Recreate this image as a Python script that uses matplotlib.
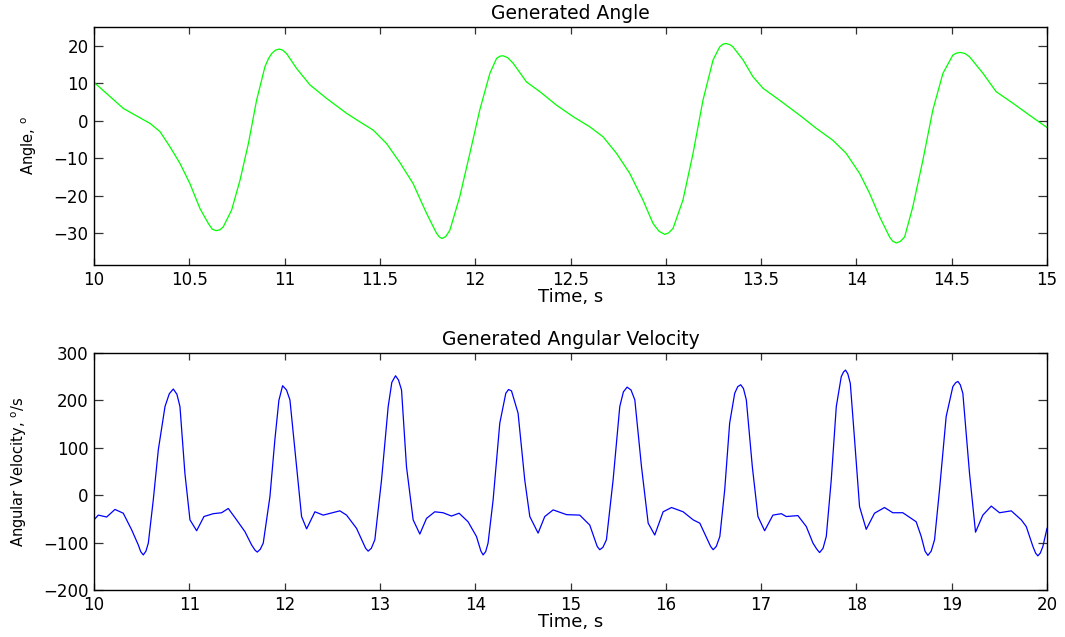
import numpy as np
import matplotlib
matplotlib.use("Agg")
import matplotlib.pyplot as plt

# ---- data ----
angle_t = [10.0, 10.154, 10.206, 10.294, 10.346, 10.399, 10.451, 10.503, 10.556, 10.6,
           10.62, 10.64, 10.66, 10.678, 10.722, 10.766, 10.81, 10.853, 10.897, 10.915,
           10.932, 10.952, 10.972, 10.99, 11.01,
           11.063, 11.133, 11.22, 11.325, 11.395, 11.465, 11.535, 11.605, 11.674, 11.745,
           11.797, 11.812, 11.826, 11.845, 11.867, 11.919, 11.972, 12.024, 12.077, 12.112,
           12.13, 12.146, 12.17, 12.199,
           12.269, 12.339, 12.426, 12.514, 12.601, 12.671, 12.741, 12.811, 12.88, 12.933,
           12.965, 12.994, 13.015, 13.038, 13.09, 13.143, 13.195, 13.248, 13.283, 13.30,
           13.315, 13.335, 13.352, 13.405,
           13.457, 13.51, 13.597, 13.702, 13.789, 13.876, 13.946, 14.017, 14.069, 14.122,
           14.174, 14.19, 14.209, 14.23, 14.253, 14.296, 14.349, 14.401, 14.454, 14.506,
           14.525, 14.545, 14.57, 14.594,
           14.664, 14.733, 14.821, 14.908, 15.0]
angle_deg = [10.3, 3.3, 1.8, -0.7, -2.9, -7.0, -11.4, -16.8, -23.5, -27.5,
             -29.0, -29.4, -29.2, -28.4, -23.9, -15.9, -6.1, 5.5, 14.5, 16.6,
             18.0, 18.9, 19.2, 18.9, 18.0,
             14.0, 9.6, 6.0, 2.0, -0.3, -2.5, -6.1, -11.2, -16.8, -24.8,
             -30.1, -31.1, -31.5, -31.0, -29.3, -20.3, -8.7, 2.9, 12.7, 16.7,
             17.3, 17.4, 16.9, 15.4,
             10.4, 7.8, 4.2, 1.1, -1.6, -4.3, -8.7, -14.1, -21.2, -27.5,
             -29.6, -30.4, -30.0, -28.8, -21.2, -8.7, 5.5, 16.3, 19.8, 20.5,
             20.7, 20.4, 19.8, 16.3,
             11.8, 8.7, 5.5, 1.5, -2.0, -5.2, -8.7, -14.1, -19.4, -25.7,
             -31.1, -32.2, -32.7, -32.3, -31.1, -23.0, -10.5, 2.9, 12.7, 17.6,
             18.1, 18.3, 18.0, 17.1,
             12.7, 7.8, 4.7, 1.5, -1.8]

vel_t = [10.0, 10.045, 10.133, 10.22, 10.307, 10.395, 10.465, 10.49, 10.517, 10.545,
         10.57, 10.622, 10.675, 10.745, 10.79, 10.832, 10.87, 10.902, 10.954, 11.007,
         11.077, 11.154, 11.251, 11.339, 11.409, 11.496, 11.584, 11.654, 11.69, 11.713,
         11.745, 11.776, 11.846, 11.898, 11.94, 11.979, 12.02, 12.056, 12.126, 12.178,
         12.231, 12.318, 12.405, 12.58, 12.65, 12.755, 12.85, 12.877, 12.91, 12.947,
         13.017, 13.087, 13.125, 13.164, 13.195, 13.227, 13.279, 13.349, 13.419, 13.489,
         13.576, 13.663, 13.751, 13.831, 13.925, 14.013, 14.06, 14.083, 14.11, 14.135,
         14.188, 14.258, 14.321, 14.35, 14.381, 14.45, 14.52, 14.573, 14.66, 14.73,
         14.818, 14.958, 15.097, 15.202, 15.28, 15.307, 15.34, 15.377, 15.447, 15.517,
         15.555, 15.594, 15.635, 15.675, 15.745, 15.815, 15.884, 15.972, 16.06, 16.182,
         16.287, 16.357, 16.47, 16.497, 16.53, 16.567, 16.618, 16.67, 16.723, 16.755,
         16.786, 16.815, 16.845, 16.908, 16.967, 17.037, 17.124, 17.212, 17.264, 17.386,
         17.474, 17.544, 17.585, 17.614, 17.65, 17.684, 17.736, 17.789, 17.841, 17.865,
         17.886, 17.91, 17.936, 17.981, 18.033, 18.103, 18.19, 18.295, 18.382, 18.487,
         18.627, 18.68, 18.72, 18.75, 18.785, 18.82, 18.872, 18.942, 19.012, 19.04,
         19.065, 19.09, 19.117, 19.187, 19.25, 19.327, 19.415, 19.502, 19.625, 19.73,
         19.782, 19.852, 19.88, 19.904, 19.93, 19.957, 20.0]
vel_dps = [-52, -42, -46, -30, -38, -73, -105, -119, -126, -118,
           -101, -10, 96, 187, 214, 224, 213, 187, 46, -52,
           -75, -45, -39, -37, -28, -52, -77, -105, -116, -120,
           -114, -101, -3, 117, 200, 231, 222, 201, 60, -45,
           -71, -35, -42, -33, -42, -70, -112, -118, -112, -94,
           32, 187, 238, 252, 243, 222, 60, -52, -82, -49,
           -35, -37, -44, -38, -56, -87, -118, -126, -119, -101,
           -10, 152, 215, 223, 220, 173, 32, -45, -80, -45,
           -31, -41, -42, -63, -108, -115, -110, -94, 32, 187,
           218, 228, 222, 201, 60, -59, -84, -35, -26, -35,
           -52, -59, -108, -115, -108, -87, 11, 152, 215, 229,
           233, 225, 201, 60, -45, -75, -42, -39, -45, -43,
           -66, -101, -114, -121, -112, -87, 32, 187, 250, 260,
           264, 256, 236, 117, -24, -72, -38, -26, -37, -37,
           -56, -87, -118, -127, -118, -94, 11, 166, 229, 237,
           240, 233, 215, 46, -78, -42, -23, -37, -33, -52,
           -66, -108, -122, -128, -122, -108, -70]

top_xticks = [10, 10.5, 11, 11.5, 12, 12.5, 13, 13.5, 14, 14.5, 15]
top_yticks = [-30, -20, -10, 0, 10, 20]
bot_xticks = list(range(10, 21))
bot_yticks = [-200, -100, 0, 100, 200, 300]

assert len(angle_t) == len(angle_deg)
assert len(vel_t) == len(vel_dps)

plt.rcParams['font.family'] = ['DejaVu Sans']
plt.rcParams['mathtext.fontset'] = 'dejavusans'

W, H = 1065, 637
fig = plt.figure(figsize=(W / 100, H / 100), dpi=100)

def px_axes(l, t, r, b):
    return [l / W, 1 - b / H, (r - l) / W, (b - t) / H]

ax1 = fig.add_axes(px_axes(94, 27, 1047, 265))
ax2 = fig.add_axes(px_axes(94, 353, 1047, 590))

def style(ax):
    for s in ax.spines.values():
        s.set_linewidth(1.0)
        s.set_color('black')
    ax.tick_params(which='both', direction='in', top=True, right=True,
                   color='#333333', width=0.9)
    ax.tick_params(axis='y', length=6.5, pad=4, labelsize=12)
    ax.tick_params(axis='x', length=5, pad=4, labelsize=12)

ax1.plot(angle_t, angle_deg, color='#00ff00', linewidth=0.9)
ax1.set_xlim(10, 15)
ax1.set_ylim(-38.6, 25.1)
ax1.set_xticks(top_xticks)
ax1.set_xticklabels([f"{v:g}" for v in top_xticks])
ax1.set_yticks(top_yticks)
ax1.set_yticklabels([f"{v:g}".replace('-', '\u2212') for v in top_yticks])
style(ax1)
ax1.set_title('Generated Angle', fontsize=13.5, pad=6)
ax1.set_xlabel('Time, s', fontsize=13)
ax1.set_ylabel(r'Angle, $^{\mathrm{o}}$', fontsize=10.5)
ax1.xaxis.set_label_coords(0.5, -0.134)
ax1.xaxis.label.set_va('center')
ax1.yaxis.set_label_coords(-0.068, 0.5)
ax1.yaxis.label.set_va('center')

ax2.plot(vel_t, vel_dps, color='#0000ff', linewidth=0.9)
ax2.set_xlim(10, 20)
ax2.set_ylim(-200, 300)
ax2.set_xticks(bot_xticks)
ax2.set_xticklabels([f"{v:g}" for v in bot_xticks])
ax2.set_yticks(bot_yticks)
ax2.set_yticklabels([f"{v:g}".replace('-', '\u2212') for v in bot_yticks])
style(ax2)
ax2.set_title('Generated Angular Velocity', fontsize=13.5, pad=6)
ax2.set_xlabel('Time, s', fontsize=13)
ax2.set_ylabel(r'Angular Velocity, $^{\mathrm{o}}$/s', fontsize=10.5)
ax2.xaxis.set_label_coords(0.5, -0.137)
ax2.xaxis.label.set_va('center')
ax2.yaxis.set_label_coords(-0.078, 0.5)
ax2.yaxis.label.set_va('center')

fig.savefig('out.png', dpi=100)
